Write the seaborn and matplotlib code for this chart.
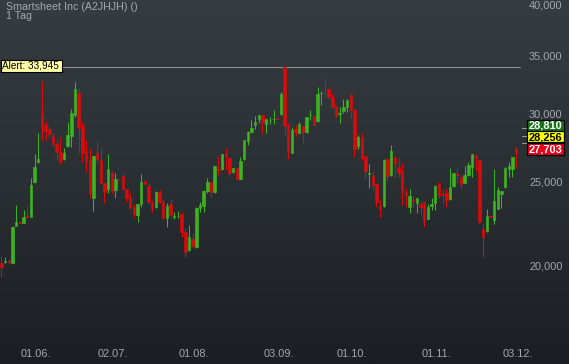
import numpy as np
import pandas as pd
import matplotlib
matplotlib.use("Agg")
import matplotlib.pyplot as plt
from matplotlib.patches import Rectangle
from matplotlib.colors import LinearSegmentedColormap
from matplotlib.ticker import NullLocator
from matplotlib.transforms import ScaledTranslation, blended_transform_factory
import seaborn as sns

TITLE = "Smartsheet Inc (A2JHJH) ()"
SUBTITLE = "1 Tag"

OPEN = [20126, 20215, 20269, 20162, 22243, 22461, 22402, 22842, 22781, 24979,
        26366, 30004, 29062, 28755, 28225, 27657, 27051, 26553, 27486, 28225,
        29845, 31640, 29011, 27123, 26482, 23961, 27003, 26482, 24935, 24519,
        25629, 24454, 25201, 25380, 24497, 23961, 23374, 22903, 23561, 25023,
        24736, 23645, 23395, 24324, 23687, 22721, 23540, 22761, 22801, 22943,
        21892, 20851, 21469, 21018, 23292, 23457, 24389, 24979, 24324, 25880,
        25857, 26884, 26624, 25651, 25925, 25179, 26553, 27853, 28527, 29088,
        29503, 29818, 29140, 29425, 29503, 29608, 29924, 33873, 29088, 27003,
        28730, 28476, 28985, 28552, 29818, 29766, 29399, 31612, 31921, 31950,
        31333, 30566, 29897, 30189, 30512, 31472, 30243, 27486, 28051, 26765,
        25516, 25448, 24847, 23457, 23436, 26553, 25448, 26694, 25994, 25720,
        24346, 23395, 23813, 23645, 23561, 23687, 22641, 23457, 23645, 24891,
        24195, 24238, 23897, 24714, 25516, 25290, 24935, 25448, 26017, 26765,
        26482, 22047, 21950, 22801, 22581, 23251, 24217, 24671, 25857, 25857,
        27243]
HIGH = [20521, 20485, 20341, 22243, 23478, 22481, 23168, 23478, 25224, 26884,
        28426, 32665, 29373, 29011, 28426, 27927, 28125, 27316, 29295, 30297,
        32578, 32035, 29321, 27927, 27316, 26765, 27927, 27316, 24935, 26884,
        25629, 25561, 25224, 25561, 24497, 24238, 23540, 23561, 25494, 25045,
        24891, 23813, 24389, 24454, 23855, 23645, 23855, 23087, 23128, 23087,
        22086, 22283, 21795, 23395, 23708, 24454, 25224, 24979, 26063, 26765,
        26884, 27316, 26624, 25948, 25925, 26718, 27927, 28628, 29451, 29766,
        29818, 29818, 29503, 29713, 30243, 29608, 31696, 33960, 29243, 28883,
        29062, 29269, 28985, 29687, 30243, 29766, 32120, 31809, 32898, 31950,
        31612, 30566, 30512, 31112, 31112, 31612, 30243, 28300, 28476, 26765,
        26180, 25742, 24847, 23813, 26529, 26553, 27559, 26694, 26718, 26249,
        24562, 24497, 24067, 23939, 23771, 23687, 23540, 23918, 24781, 24891,
        24497, 24606, 25902, 25606, 25902, 25290, 26063, 26366, 26884, 26884,
        26482, 22382, 23230, 22801, 25834, 24671, 24389, 26017, 26366, 26718,
        27389]
LOW = [19425, 20162, 20090, 20126, 22223, 22402, 22382, 22701, 22741, 24935,
       26296, 27853, 27927, 28125, 27486, 26482, 26180, 26482, 27437, 27437,
       29661, 26955, 26366, 25674, 23918, 23148, 26249, 24847, 23603, 24238,
       24238, 23918, 25134, 24454, 23665, 23292, 22781, 22481, 23354, 24847,
       23561, 23087, 23292, 23603, 22681, 22145, 22681, 22661, 22701, 21565,
       20485, 20814, 20944, 20981, 23087, 23087, 24281, 24024, 24281, 25448,
       25788, 25788, 25290, 25606, 25112, 25157, 26482, 27559, 28476, 28730,
       29191, 28351, 28426, 29114, 29114, 29556, 29845, 28300, 26529, 26955,
       28225, 28426, 27681, 28476, 29451, 29036, 29321, 30648, 31278, 31112,
       30458, 29661, 29191, 30030, 30110, 29582, 26718, 27243, 26482, 25157,
       24562, 24454, 23395, 22781, 23395, 25067, 25403, 25335, 25335, 23499,
       23395, 23025, 23395, 23025, 22882, 22145, 22621, 23189, 23189, 23918,
       23561, 23354, 23813, 24671, 24891, 24497, 24891, 25403, 25335, 25742,
       22382, 20449, 21892, 22761, 22342, 23230, 23292, 24584, 25335, 25335,
       25902]
CLOSE = [19913, 20269, 20197, 22184, 22461, 22421, 22761, 22741, 24781, 25994,
         26553, 28857, 28603, 28376, 27608, 27051, 26412, 27003, 28300, 30030,
         31978, 28857, 26955, 26412, 24238, 26765, 26529, 24891, 24346, 25857,
         24411, 25179, 25157, 24519, 23961, 23333, 22943, 23561, 24979, 24869,
         23708, 23251, 24324, 23708, 22721, 23457, 22903, 22801, 22842, 21892,
         20759, 21584, 21074, 23313, 23499, 24389, 24979, 24303, 26063, 25788,
         26884, 26789, 25561, 25948, 25157, 26412, 27927, 28527, 28806, 29295,
         29818, 29269, 29503, 29477, 29556, 29556, 31556, 29011, 27075, 28679,
         28552, 29140, 28527, 29687, 29871, 29062, 31556, 31668, 31865, 31333,
         30512, 29766, 30030, 30512, 31057, 30243, 27243, 28125, 26647, 25720,
         25606, 24781, 23708, 23251, 26482, 25403, 27123, 26203, 25606, 24346,
         24131, 24067, 23750, 23939, 23395, 22541, 23395, 23561, 24736, 24131,
         24152, 23813, 24671, 25561, 25471, 24847, 25448, 26133, 26884, 26671,
         22441, 21565, 22821, 22761, 23750, 24454, 24389, 25948, 26063, 26671,
         27003]

X_TICK_LABELS = ["01.06.", "02.07.", "01.08.", "03.09.", "01.10.", "01.11.", "03.12."]
X_TICK_INDEX = [9, 30, 52, 75, 95, 118, 140]
Y_TICKS = [20000, 25000, 30000, 35000, 40000]
Y_TICK_LABELS = ["20,000", "25,000", "30,000", "35,000", "40,000"]
ALERT_VALUE = 33945
ALERT_LABEL = "Alert: 33,945"
QUOTE_VALUES = [28810, 28256, 27703]
QUOTE_LABELS = ["28,810", "28,256", "27,703"]

GREEN = "#3db41f"
RED = "#d90b0b"
TXT = "#a4a8ac"

sns.set_theme(style="dark")
plt.rcParams['font.family'] = ['Liberation Sans', 'DejaVu Sans']

W, H = 569, 364
fig = plt.figure(figsize=(W / 100, H / 100), dpi=100)


def fx(x):
    return x / W


def fy(y):
    return 1 - y / H


# background gradient
bg = fig.add_axes([0, 0, 1, 1], zorder=0)
grad = np.linspace(0, 1, 256).reshape(-1, 1)
cmap = LinearSegmentedColormap.from_list("bg", ["#363c41", "#2a2f33", "#1b1e22"])
bg.imshow(grad, aspect="auto", cmap=cmap, extent=[0, 1, 0, 1])
bg.axis("off")

ax = fig.add_axes([0, 0, 1, 1], zorder=1)
ax.set_facecolor("none")
for s in ax.spines.values():
    s.set_visible(False)

df = pd.DataFrame({"idx": np.arange(len(OPEN)), "open": OPEN, "high": HIGH,
                   "low": LOW, "close": CLOSE})
df["color"] = np.where(df["close"] > df["open"], GREEN, RED)
df["bottom"] = df[["open", "close"]].min(axis=1)
df["height"] = (df["close"] - df["open"]).abs()

ax.vlines(df["idx"], df["low"], df["high"], colors=df["color"], lw=0.75, zorder=2)
ax.bar(df["idx"], df["height"], bottom=df["bottom"], width=0.66,
       color=df["color"], edgecolor=df["color"], linewidth=0.45, zorder=3)

ax.set_yscale("log")
ax.set_ylim(15405, 40506)
ax.set_xlim(-0.408, 154.38)
ax.grid(False)

ax.set_yticks(Y_TICKS)
ax.set_yticklabels(Y_TICK_LABELS)
ax.yaxis.set_minor_locator(NullLocator())
ax.yaxis.tick_right()
ax.tick_params(axis="y", length=0, pad=-28.8, labelsize=7.9, labelcolor=TXT)

ax.set_xticks(X_TICK_INDEX)
ax.set_xticklabels(X_TICK_LABELS)
ax.tick_params(axis="x", length=0, pad=-10.8, labelsize=7.9, labelcolor=TXT)
for t in ax.get_xticklabels():
    t.set_transform(t.get_transform() + ScaledTranslation(0.015, 0, fig.dpi_scale_trans))

# alert line and label
ax.axhline(ALERT_VALUE, xmin=fx(62), xmax=fx(520), color="#8e8e8e", lw=0.8, zorder=1)
fig.patches.append(Rectangle((fx(0.5), fy(71.5)), 61.5 / W, 11.3 / H, transform=fig.transFigure,
                             facecolor="#ffffa8", edgecolor="black", lw=0.8, zorder=5))
fig.text(fx(2.5), fy(68.6), ALERT_LABEL, fontsize=7.2, color="black", va="baseline",
         ha="left", zorder=6)

# title
fig.text(fx(6), fy(9.7), TITLE, fontsize=7.7, color=TXT, va="baseline", ha="left")
fig.text(fx(6), fy(19.2), SUBTITLE, fontsize=7.7, color=TXT, va="baseline", ha="left")

# quote boxes
trans = blended_transform_factory(ax.transAxes, ax.transData)
for v in QUOTE_VALUES:
    ax.plot([fx(522), fx(527)], [v, v], color="#9a9a9a", lw=0.8, transform=trans, zorder=4)

box_tops = [119.5, 131.0, 142.5]
box_h = [11.5, 11.5, 12.5]
box_fc = ["#1a731a", "#ffff00", "#e3001b"]
box_tc = ["white", "black", "white"]
for lab, top, hh, fc, tc in zip(QUOTE_LABELS, box_tops, box_h, box_fc, box_tc):
    fig.patches.append(Rectangle((fx(527), fy(top + hh)), 37 / W, hh / H,
                                 transform=fig.transFigure, facecolor=fc,
                                 edgecolor="black", lw=0.9, zorder=5))
    fig.text(fx(545.5), fy(top + hh / 2 + 0.3), lab, fontsize=7.9, color=tc,
             fontweight="bold", ha="center", va="center", zorder=6)

fig.savefig("out.png", dpi=100)
